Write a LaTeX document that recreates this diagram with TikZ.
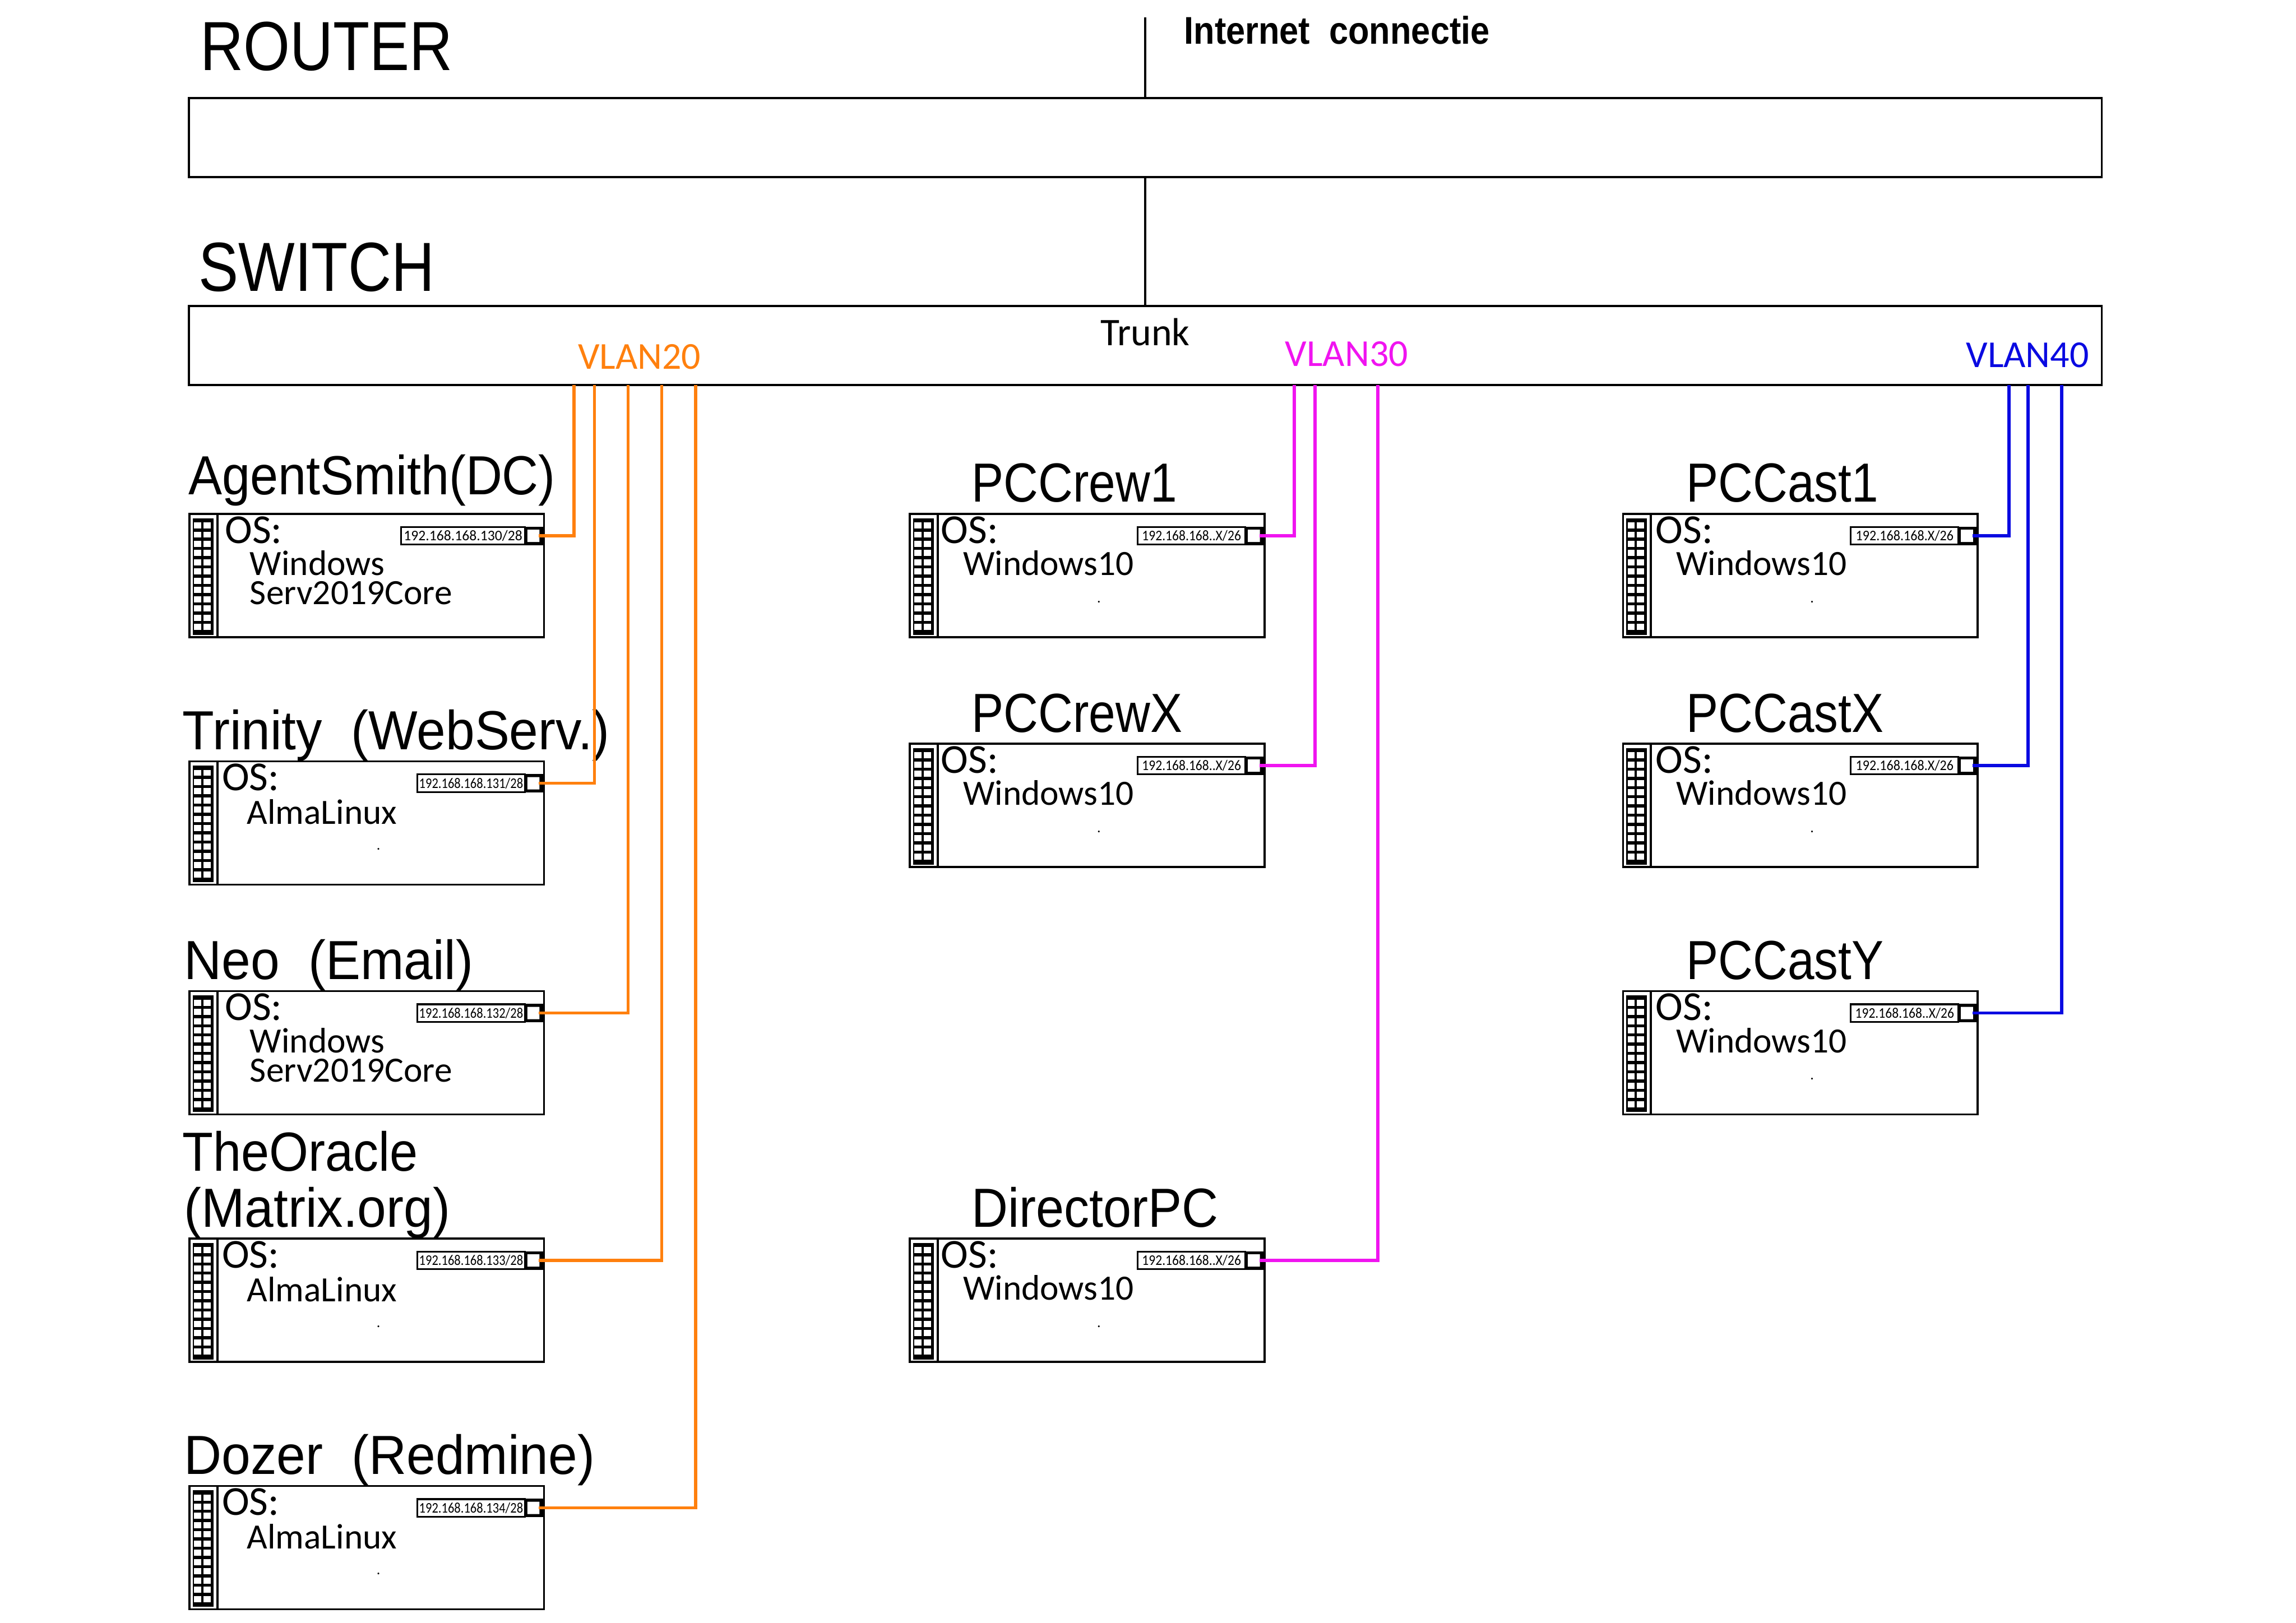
\documentclass[tikz,border=0pt]{standalone}
\usepackage{fontspec}
\setmainfont{Carlito}
\newfontfamily\headfont[FakeStretch=0.86]{Liberation Sans}
\newfontfamily\pcfont[FakeStretch=0.87]{Liberation Sans}
\newfontfamily\midheadfont[FakeStretch=0.915]{Liberation Sans}
\newfontfamily\wideheadfont[FakeStretch=0.945]{Liberation Sans}
\newfontfamily\inetfont[FakeStretch=0.89]{Liberation Sans}
\usetikzlibrary{shapes.misc}
\definecolor{vlanorange}{RGB}{255,128,14}
\definecolor{vlanmagenta}{RGB}{240,20,240}
\definecolor{vlanblue}{RGB}{10,10,225}

\tikzset{
  netbox/.style={draw, line width=0.4pt, inner sep=0pt, outer sep=0pt, minimum width=13.055cm, minimum height=0.54cm},
  hostrect/.style={draw, line width=0.4pt, inner sep=0pt, outer sep=0pt, anchor=north west, minimum width=2.42cm, minimum height=0.842cm},
  stripbox/.style={hostrect, minimum width=0.19cm},
  rackbox/.style={fill=black, inner sep=0pt, outer sep=0pt, anchor=north west, minimum width=0.14cm, minimum height=0.795cm},
  nicport/.style={fill=black, inner sep=0pt, outer sep=0pt, minimum width=0.125cm, minimum height=0.126cm},
  nicjack/.style={chamfered rectangle, chamfered rectangle xsep=0.5pt, chamfered rectangle ysep=0.5pt, fill=white, inner sep=0pt, outer sep=0pt, minimum width=0.083cm, minimum height=0.084cm},
  iptext/.style={font=\fontsize{2.85}{3}\selectfont, inner sep=0pt},
  headlabel/.style={font=\headfont\fontsize{13.5}{14}\selectfont, anchor=base west, inner sep=0pt},
  hosttitle/.style={font=\wideheadfont\fontsize{10.7}{12}\selectfont, anchor=base west, inner sep=0pt, yshift=-0.01cm},
  midtitle/.style={hosttitle, font=\midheadfont\fontsize{10.7}{12}\selectfont},
  pctitle/.style={hosttitle, font=\pcfont\fontsize{10.7}{12}\selectfont},
  oslabel/.style={font=\fontsize{8}{9}\selectfont, anchor=base west, inner sep=0pt, yshift=-0.01cm},
  ostext/.style={font=\fontsize{6.9}{8}\selectfont, anchor=base west, inner sep=0pt, yshift=-0.01cm},
  vlanlabel/.style={font=\fontsize{7.4}{8}\selectfont, anchor=base west, inner sep=0pt},
  wiretwenty/.style={draw=vlanorange, line width=0.6pt},
  wirethirty/.style={draw=vlanmagenta, line width=0.6pt},
  wireforty/.style={draw=vlanblue, line width=0.6pt}
}

\newcommand{\narrowip}[2]{\scalebox{#1}[1]{#2}}

\newcommand{\hostbox}[5]{%
  \node[hostrect] (#1) at (#2+0.4,#3) {};
  \node[stripbox] (#1-strip) at (#2+0.4,#3) {};
  \node[rackbox] (#1-rack) at (#2+2.7,#3+3) {};
  \foreach \col in {0,1}
    \foreach \row in {0,...,11}
      \fill[white] (#2+3.5+\col*6.5,#3+5.8+\row*6.3) rectangle ++(4.8,4.2);
  \draw[line width=0.35pt] (#4,#3+9) rectangle (#2+229.5,#3+21) node[midway, iptext] (#1-ip) {#5};
  \node[nicport] (#1-port) at (#2+235.8,#3+15) {};
  \node[nicjack] (#1-jack) at (#2+235.3,#3+15) {};
  \coordinate (#1-nic) at (#2+239,#3+15);
}

\begin{document}
\begin{tikzpicture}[x=0.01cm, y=-0.01cm]
  \useasboundingbox (0,0) rectangle (1568,1108.4);

  \node[headlabel] (routerlabel) at (136,48) {ROUTER};
  \node[headlabel] (switchlabel) at (135,199) {SWITCH};
  \node[font=\inetfont\bfseries\fontsize{7.5}{8}\selectfont, anchor=base west, inner sep=0pt] (inetlabel) at (808,30) {Internet\ \ connectie};

  \node[netbox] (router) at (782.2,94) {};
  \node[netbox] (switch) at (782.2,236) {};
  \coordinate (inet) at (782.2,12);
  \draw[line width=0.45pt] (inet) -- (router.north);
  \draw[line width=0.45pt] (router.south) -- (switch.north);

  \node[vlanlabel, font=\fontsize{7.6}{8}\selectfont] (trunk) at (751,236) {Trunk};
  \node[vlanlabel, text=vlanorange] (vlan20) at (394,252) {VLAN20};
  \node[vlanlabel, text=vlanmagenta] (vlan30) at (877,250) {VLAN30};
  \node[vlanlabel, text=vlanblue] (vlan40) at (1342,251) {VLAN40};

  \hostbox{smith}{129}{351}{274}{\narrowip{0.98}{192.168.168.130/28}}
  \node[midtitle] (smith-title) at (128,337) {AgentSmith(DC)};
  \node[oslabel] (smith-os) at (153,370) {OS:};
  \node[ostext] (smith-sys) at (170,392) {Windows};
  \node[ostext] (smith-ver) at (170,412) {Serv2019Core};

  \hostbox{trinity}{129}{520}{285}{\narrowip{0.86}{192.168.168.131/28}}
  \node[hosttitle] (trinity-title) at (124,511) {Trinity\ \ (WebServ.)};
  \node[oslabel] (trinity-os) at (151,539) {OS:};
  \node[ostext] (trinity-sys) at (168,562) {AlmaLinux};

  \hostbox{neo}{129}{677}{285}{\narrowip{0.86}{192.168.168.132/28}}
  \node[hosttitle] (neo-title) at (125,668) {Neo\ \ (Email)};
  \node[oslabel] (neo-os) at (153,696) {OS:};
  \node[ostext] (neo-sys) at (170,718) {Windows};
  \node[ostext] (neo-ver) at (170,738) {Serv2019Core};

  \hostbox{oracle}{129}{846}{285}{\narrowip{0.86}{192.168.168.133/28}}
  \node[midtitle] (oracle-title) at (124,799) {TheOracle};
  \node[hosttitle] (oracle-org) at (125,837) {(Matrix.org)};
  \node[oslabel] (oracle-os) at (151,865) {OS:};
  \node[ostext] (oracle-sys) at (168,888) {AlmaLinux};

  \hostbox{dozer}{129}{1015}{285}{\narrowip{0.86}{192.168.168.134/28}}
  \node[hosttitle] (dozer-title) at (125,1006) {Dozer\ \ (Redmine)};
  \node[oslabel] (dozer-os) at (151,1034) {OS:};
  \node[ostext] (dozer-sys) at (168,1057) {AlmaLinux};

  \hostbox{crewone}{621}{351}{777}{\narrowip{0.9}{192.168.168..X/26}}
  \node[pctitle] (crewone-title) at (663,342) {PCCrew1};
  \node[oslabel] (crewone-os) at (642,370) {OS:};
  \node[ostext] (crewone-sys) at (657,392) {Windows10};

  \hostbox{crewx}{621}{508}{777}{\narrowip{0.9}{192.168.168..X/26}}
  \node[pctitle] (crewx-title) at (663,499) {PCCrewX};
  \node[oslabel] (crewx-os) at (642,527) {OS:};
  \node[ostext] (crewx-sys) at (657,549) {Windows10};

  \hostbox{director}{621}{846}{777}{\narrowip{0.9}{192.168.168..X/26}}
  \node[midtitle] (director-title) at (663,837) {DirectorPC};
  \node[oslabel] (director-os) at (642,865) {OS:};
  \node[ostext] (director-sys) at (657,887) {Windows10};

  \hostbox{castone}{1108}{351}{1264}{\narrowip{0.92}{192.168.168.X/26}}
  \node[pctitle] (castone-title) at (1151,342) {PCCast1};
  \node[oslabel] (castone-os) at (1130,370) {OS:};
  \node[ostext] (castone-sys) at (1144,392) {Windows10};

  \hostbox{castx}{1108}{508}{1264}{\narrowip{0.92}{192.168.168.X/26}}
  \node[pctitle] (castx-title) at (1151,499) {PCCastX};
  \node[oslabel] (castx-os) at (1130,527) {OS:};
  \node[ostext] (castx-sys) at (1144,549) {Windows10};

  \hostbox{casty}{1108}{677}{1264}{\narrowip{0.9}{192.168.168..X/26}}
  \node[pctitle] (casty-title) at (1151,668) {PCCastY};
  \node[oslabel] (casty-os) at (1130,696) {OS:};
  \node[ostext] (casty-sys) at (1144,718) {Windows10};

  \foreach \host in {trinity,oracle,dozer,crewone,crewx,director,castone,castx,casty}
    \node[font=\fontsize{2.85}{3}\selectfont, inner sep=0pt] (\host-dot) at ([shift={(8,18)}]\host.center) {.};

  \foreach \host/\xpos in {smith/392,trinity/406,neo/429,oracle/452,dozer/475} {
    \coordinate (\host-drop) at (\xpos,263);
    \draw[wiretwenty] (\host-drop) |- (\host-nic);
  }
  \foreach \host/\xpos in {crewone/884,crewx/898,director/941} {
    \coordinate (\host-drop) at (\xpos,263);
    \draw[wirethirty] (\host-drop) |- (\host-nic);
  }
  \foreach \host/\xpos in {castone/1372,castx/1385,casty/1408} {
    \coordinate (\host-drop) at (\xpos,263);
    \draw[wireforty] (\host-drop) |- (\host-nic);
  }
\end{tikzpicture}
\end{document}
